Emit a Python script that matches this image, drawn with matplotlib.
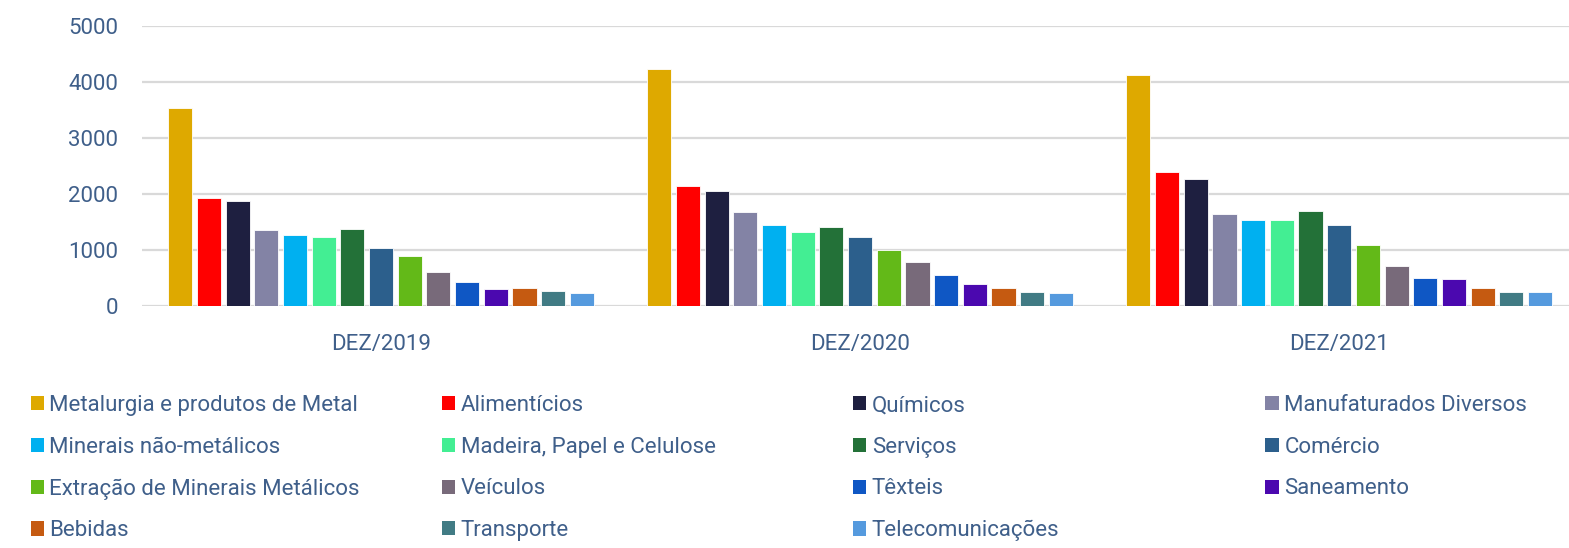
import numpy as np
import matplotlib.pyplot as plt
from matplotlib.patches import Patch

plt.rcParams['font.family'] = ['Roboto', 'DejaVu Sans']

periods = ["DEZ/2019", "DEZ/2020", "DEZ/2021"]
sectors = [
    "Metalurgia e produtos de Metal", "Alimentícios", "Químicos", "Manufaturados Diversos",
    "Minerais não-metálicos", "Madeira, Papel e Celulose", "Serviços", "Comércio",
    "Extração de Minerais Metálicos", "Veículos", "Têxteis", "Saneamento",
    "Bebidas", "Transporte", "Telecomunicações",
]
colors = [
    "#DEA900", "#FF0000", "#1E1F40", "#8383A5",
    "#00B0F0", "#43EE93", "#237138", "#2C5F8C",
    "#63B918", "#786A7A", "#0F57C4", "#4B08AF",
    "#C55A11", "#417B84", "#559ADE",
]
# values per sector: [2019, 2020, 2021]
values = [
    [3530, 4224, 4117],
    [1923, 2148, 2392],
    [1875, 2058, 2267],
    [1357, 1670, 1647],
    [1268, 1443, 1540],
    [1226, 1330, 1540],
    [1375, 1419, 1700],
    [1030, 1235, 1443],
    [893, 1002, 1092],
    [613, 788, 709],
    [429, 555, 501],
    [304, 394, 489],
    [316, 328, 328],
    [268, 251, 251],
    [232, 226, 251],
]

text_color = "#3F5F8A"

fig = plt.figure(figsize=(15.69, 5.48), dpi=100)
ax = fig.add_axes([0.0902, 0.4416, 0.916, 0.511])

x = np.arange(len(periods))
n = len(sectors)
slot = 0.898 / n
bar_w = slot * 0.84
for i, (name, vals) in enumerate(zip(sectors, values)):
    offs = (i - (n - 1) / 2) * slot
    ax.bar(x + offs, vals, width=bar_w, color=colors[i], edgecolor="white",
           linewidth=0.6, label=name, zorder=3)

ax.set_xlim(-0.5, len(periods) - 0.5)
ax.set_ylim(0, 5000)
ax.set_yticks(range(0, 5001, 1000))
ax.set_xticks(x)
ax.set_xticklabels(periods)
ax.yaxis.grid(True, color="#D9D9D9", linewidth=1.6, zorder=0)
ax.set_axisbelow(True)
for s in ax.spines.values():
    s.set_visible(False)
ax.tick_params(axis="both", length=0, colors=text_color, labelsize=16)
ax.tick_params(axis="x", pad=20)
ax.tick_params(axis="y", pad=17)

# legend: 4 columns laid out row by row
col_x = [0.0195, 0.2815, 0.5435, 0.8065]
for c in range(4):
    hs = [Patch(facecolor=colors[k]) for k in range(c, n, 4)]
    ls = [sectors[k] for k in range(c, n, 4)]
    fig.legend(hs, ls, loc="upper left", bbox_to_anchor=(col_x[c], 0.279),
               frameon=False, fontsize=16, labelcolor=text_color,
               handlelength=0.6, handleheight=0.6, handletextpad=0.25,
               labelspacing=0.93, borderaxespad=0, borderpad=0)

fig.savefig("out.png", dpi=100)
